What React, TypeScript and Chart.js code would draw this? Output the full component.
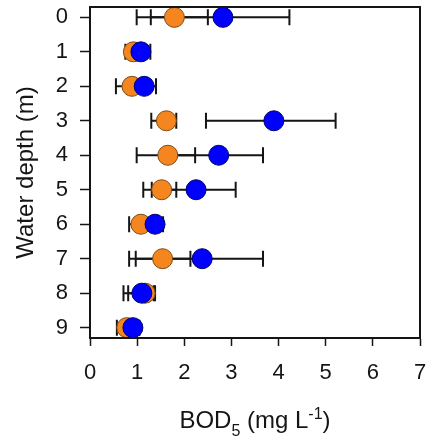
import React, { useEffect, useRef } from 'react';
import { Chart, registerables } from 'chart.js';

Chart.register(...registerables);

// ---- Data ----
const depths = [0, 1, 2, 3, 4, 5, 6, 7, 8, 9];
const depthTicks = [0, 1, 2, 3, 4, 5, 6, 7, 8, 9];
const bodTicks = [0, 1, 2, 3, 4, 5, 6, 7];

const orangeMean = [1.79, 0.92, 0.89, 1.62, 1.65, 1.52, 1.08, 1.54, 1.17, 0.78];
const orangeLow = [0.99, 0.75, 0.55, 1.3, 0.99, 1.13, 0.83, 0.83, 0.81, 0.57];
const orangeHigh = [2.5, 1.12, 1.22, 1.83, 2.23, 1.83, 1.32, 2.13, 1.38, 0.98];

const blueMean = [2.82, 1.08, 1.15, 3.9, 2.73, 2.25, 1.38, 2.38, 1.1, 0.91];
const blueLow = [1.29, 0.88, 0.82, 2.46, 1.74, 1.31, 1.08, 0.97, 0.71, 0.75];
const blueHigh = [4.23, 1.28, 1.4, 5.21, 3.67, 3.09, 1.55, 3.67, 1.35, 1.05];

const FONT = '"Liberation Sans", Arial, sans-serif';
const INK = '#151515';

const errorBarPlugin = {
  id: 'errorBars',
  beforeDatasetsDraw(chart: any) {
    const { ctx, scales } = chart;
    const x = scales.x;
    const y = scales.y;
    ctx.save();
    ctx.strokeStyle = INK;
    ctx.lineWidth = 2;
    chart.data.datasets.forEach((ds: any) => {
      ds.data.forEach((p: any) => {
        const yp = y.getPixelForValue(p.y);
        const xl = x.getPixelForValue(p.xMin);
        const xr = x.getPixelForValue(p.xMax);
        ctx.beginPath();
        ctx.moveTo(xl, yp);
        ctx.lineTo(xr, yp);
        ctx.moveTo(xl, yp - 8);
        ctx.lineTo(xl, yp + 8);
        ctx.moveTo(xr, yp - 8);
        ctx.lineTo(xr, yp + 8);
        ctx.stroke();
      });
    });
    ctx.restore();
  },
};

const framePlugin = {
  id: 'frameAndTitles',
  afterDraw(chart: any) {
    const { ctx, chartArea } = chart;
    ctx.save();
    ctx.strokeStyle = INK;
    ctx.lineWidth = 2;
    ctx.strokeRect(chartArea.left, chartArea.top, chartArea.right - chartArea.left, chartArea.bottom - chartArea.top);

    // Y title
    ctx.fillStyle = INK;
    ctx.save();
    ctx.translate(26, (chartArea.top + chartArea.bottom) / 2);
    ctx.rotate(-Math.PI / 2);
    ctx.font = `24px ${FONT}`;
    ctx.textAlign = 'center';
    ctx.textBaseline = 'middle';
    ctx.fillText('Water depth (m)', 0, 0);
    ctx.restore();

    // X title with subscript / superscript
    const parts = [
      { t: 'BOD', s: 24, dy: 0 },
      { t: '5', s: 16, dy: 8 },
      { t: ' (mg L', s: 24, dy: 0 },
      { t: '-1', s: 16, dy: -9 },
      { t: ')', s: 24, dy: 0 },
    ];
    let total = 0;
    const widths = parts.map((p) => {
      ctx.font = `${p.s}px ${FONT}`;
      const w = ctx.measureText(p.t).width;
      total += w;
      return w;
    });
    let cx = (chartArea.left + chartArea.right) / 2 - total / 2;
    const base = 428;
    ctx.textAlign = 'left';
    ctx.textBaseline = 'alphabetic';
    parts.forEach((p, i) => {
      ctx.font = `${p.s}px ${FONT}`;
      ctx.fillText(p.t, cx, base + p.dy);
      cx += widths[i];
    });
    ctx.restore();
  },
};

export default function App() {
  const ref = useRef<HTMLCanvasElement | null>(null);

  useEffect(() => {
    if (!ref.current) return;
    const orangeData = depths.map((d, i) => ({ x: orangeMean[i], y: d, xMin: orangeLow[i], xMax: orangeHigh[i] }));
    const blueData = depths.map((d, i) => ({ x: blueMean[i], y: d, xMin: blueLow[i], xMax: blueHigh[i] }));

    const chart = new Chart(ref.current, {
      type: 'scatter',
      data: {
        datasets: [
          {
            label: 'Orange',
            data: orangeData as any,
            backgroundColor: '#F5851F',
            borderColor: '#7A4B14',
            borderWidth: 1,
            pointRadius: 10,
            pointHoverRadius: 10,
            order: 1,
          },
          {
            label: 'Blue',
            data: blueData as any,
            backgroundColor: '#0000FF',
            borderColor: '#00006E',
            borderWidth: 1,
            pointRadius: 10,
            pointHoverRadius: 10,
            order: 0,
          },
        ],
      },
      options: {
        animation: false,
        responsive: false,
        maintainAspectRatio: false,
        layout: { autoPadding: false, padding: { top: 7, right: 9, left: 0, bottom: 0 } },
        plugins: { legend: { display: false }, tooltip: { enabled: false } },
        scales: {
          x: {
            type: 'linear',
            min: 0,
            max: 7,
            afterBuildTicks: (s: any) => {
              s.ticks = bodTicks.map((v) => ({ value: v }));
            },
            afterFit: (s: any) => {
              s.height = 101;
              s.paddingLeft = 0;
              s.paddingRight = 0;
            },
            grid: { display: true, drawOnChartArea: false, drawTicks: true, tickLength: 8, tickColor: INK, tickWidth: 1.5 },
            border: { display: true, color: INK, width: 2 },
            ticks: { font: { family: FONT, size: 22 }, color: INK, padding: 14, maxRotation: 0 },
          },
          y: {
            type: 'linear',
            reverse: true,
            min: -0.3,
            max: 9.3,
            afterBuildTicks: (s: any) => {
              s.ticks = depthTicks.map((v) => ({ value: v }));
            },
            afterFit: (s: any) => {
              s.width = 90;
              s.paddingTop = 0;
              s.paddingBottom = 0;
            },
            grid: { display: true, drawOnChartArea: false, drawTicks: true, tickLength: 10, tickColor: INK, tickWidth: 1.5 },
            border: { display: true, color: INK, width: 2 },
            ticks: { font: { family: FONT, size: 22 }, color: INK, padding: 12 },
          },
        },
      },
      plugins: [errorBarPlugin, framePlugin],
    });
    return () => chart.destroy();
  }, []);

  return (
    <div style={{ position: 'absolute', left: 0, top: 0, width: 429, height: 439, background: '#fff' }}>
      <canvas ref={ref} width={429} height={439} />
    </div>
  );
}
